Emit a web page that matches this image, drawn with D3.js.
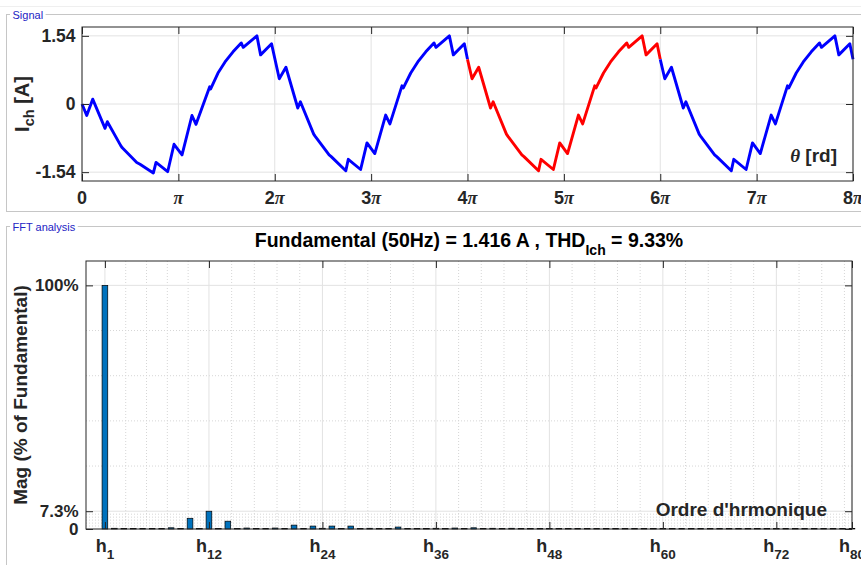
<!DOCTYPE html>
<html>
<head>
<meta charset="utf-8">
<script src="https://cdn.jsdelivr.net/npm/d3@7"></script>
<style>
  html, body { margin: 0; padding: 0; background: #fff; }
  svg { display: block; }
</style>
</head>
<body>
<svg id="fig" width="861" height="565"></svg>
<script>
// ---------------------------------------------------------------
// Load current i_ch(θ): polyline vertices as [θ / π, current in A]
// ---------------------------------------------------------------
const signalBefore = [
  [0.000, 0.00], [0.049, -0.26], [0.111, 0.11], [0.239, -0.55], [0.263, -0.40],
  [0.402, -0.94], [0.418, -0.99], [0.568, -1.32], [0.602, -1.36], [0.740, -1.56],
  [0.768, -1.32], [0.889, -1.53], [0.955, -0.91], [1.038, -1.15], [1.141, -0.26],
  [1.183, -0.46], [1.325, 0.39], [1.335, 0.34], [1.411, 0.70], [1.484, 0.95],
  [1.567, 1.18], [1.652, 1.38], [1.673, 1.28], [1.815, 1.54], [1.853, 1.11],
  [1.967, 1.36], [2.047, 0.57], [2.116, 0.83], [2.239, -0.09], [2.266, 0.05],
  [2.404, -0.68], [2.420, -0.73], [2.564, -1.15], [2.586, -1.19], [2.737, -1.51],
  [2.763, -1.25], [2.891, -1.48], [2.957, -0.88], [3.038, -1.12], [3.151, -0.25],
  [3.195, -0.45], [3.320, 0.41], [3.333, 0.36], [3.411, 0.70], [3.484, 0.95],
  [3.567, 1.18], [3.652, 1.38], [3.673, 1.28], [3.812, 1.54], [3.853, 1.11],
  [3.967, 1.36], [4.000, 1.01]
];

// the analysed window (4π – 6π)
const signalHighlighted = [
  [4.000, 1.01], [4.047, 0.57], [4.116, 0.83], [4.239, -0.09], [4.266, 0.05],
  [4.404, -0.68], [4.420, -0.73], [4.564, -1.15], [4.586, -1.19], [4.737, -1.51],
  [4.763, -1.25], [4.891, -1.48], [4.957, -0.88], [5.038, -1.12], [5.151, -0.25],
  [5.195, -0.45], [5.320, 0.41], [5.333, 0.36], [5.411, 0.70], [5.484, 0.95],
  [5.567, 1.18], [5.652, 1.38], [5.673, 1.28], [5.812, 1.54], [5.853, 1.11],
  [5.967, 1.36], [6.000, 1.01]
];

const signalAfter = [
  [6.000, 1.01], [6.047, 0.57], [6.116, 0.83], [6.239, -0.09], [6.266, 0.05],
  [6.404, -0.68], [6.420, -0.73], [6.564, -1.15], [6.586, -1.19], [6.737, -1.51],
  [6.763, -1.25], [6.891, -1.48], [6.957, -0.88], [7.038, -1.12], [7.151, -0.25],
  [7.195, -0.45], [7.320, 0.41], [7.333, 0.36], [7.411, 0.70], [7.484, 0.95],
  [7.567, 1.18], [7.652, 1.38], [7.673, 1.28], [7.812, 1.54], [7.853, 1.11],
  [7.967, 1.36], [8.000, 1.01]
];

const signalXTicks = [0, 1, 2, 3, 4, 5, 6, 7, 8];          // multiples of π
const signalYTicks = [-1.54, 0, 1.54];
const signalYTickLabels = ["-1.54", "0", "1.54"];

// ---------------------------------------------------------------
// FFT of the analysed window: harmonic order and % of fundamental
// ---------------------------------------------------------------
const harmonicOrders = [
   1,  2,  3,  4,  5,  6,  7,  8,  9, 10, 11, 12, 13, 14, 15, 16, 17, 18, 19, 20,
  21, 22, 23, 24, 25, 26, 27, 28, 29, 30, 31, 32, 33, 34, 35, 36, 37, 38, 39, 40,
  41, 42, 43, 44, 45, 46, 47, 48, 49, 50, 51, 52, 53, 54, 55, 56, 57, 58, 59, 60,
  61, 62, 63, 64, 65, 66, 67, 68, 69, 70, 71, 72, 73, 74, 75, 76, 77, 78, 79, 80
];
const harmonicMag = [
  100, 0.3, 0.2, 0.2, 0.2, 0.2, 0.2, 0.5, 0.2, 4.4, 0.2, 7.3, 0.2, 3.2, 0.2, 0.4, 0.2, 0.2, 0.4, 0.2,
  1.6, 0.2, 1.2, 0.3, 1.2, 0.2, 1.2, 0.2, 0.3, 0.2, 0.2, 0.8, 0.2, 0.2, 0.2, 0.3, 0.2, 0.4, 0.2, 0.5,
  0.2, 0.3, 0.2, 0.3, 0.2, 0.2, 0.2, 0.2, 0.2, 0.2, 0.2, 0.2, 0.2, 0.2, 0.2, 0.2, 0.2, 0.2, 0.2, 0.2,
  0.2, 0.2, 0.2, 0.2, 0.2, 0.2, 0.2, 0.2, 0.2, 0.2, 0.2, 0.2, 0.2, 0.2, 0.2, 0.2, 0.2, 0.2, 0.2, 0.2
];

const fftXTicks = [1, 12, 24, 36, 48, 60, 72, 80];
const fftXMinor = [3.2, 5.4, 7.6, 9.8, 14.4, 16.8, 19.2, 21.6, 26.4, 28.8, 31.2, 33.6,
                   38.4, 40.8, 43.2, 45.6, 50.4, 52.8, 55.2, 57.6, 62.4, 64.8, 67.2, 69.6,
                   74.4, 76.8, 79.2];
const fftYTicks = [0, 7.3, 100];
const fftYTickLabels = ["0", "7.3%", "100%"];
const fftYMinor = [1.22, 2.43, 3.65, 4.87, 6.08, 25.84, 44.38, 62.92, 81.46];

const fundamentalHz = 50;
const fundamentalAmp = 1.416;
const thdPercent = 9.33;

// ---------------------------------------------------------------
const W = 861;
const SANS = '"Liberation Sans", Arial, Helvetica, sans-serif';
const SERIF = '"Liberation Serif", "Times New Roman", serif';
const INK = "#262626";
const GRID = "#e2e2e2";

const svg = d3.select("#fig").style("font-family", SANS);

// faint top rule of the window
svg.append("line").attr("x1", 0).attr("x2", W).attr("y1", 6.5).attr("y2", 6.5)
  .attr("stroke", "#efefef");

// etched panel frame with a caption in its top border
function panelFrame(top, bottom, caption, captionBaseline) {
  const g = svg.append("g");
  g.append("rect").attr("x", 6.5).attr("y", top).attr("width", W + 10).attr("height", bottom - top)
    .attr("fill", "none").attr("stroke", "#c6c6c6");
  g.append("rect").attr("x", 7.5).attr("y", top + 1).attr("width", W + 10).attr("height", bottom - top - 2)
    .attr("fill", "none").attr("stroke", "#ffffff");
  const t = g.append("text").attr("x", 12.5).attr("y", captionBaseline)
    .attr("font-size", 11).attr("fill", "#2323c4").text(caption);
  const w = t.node().getComputedTextLength();
  g.insert("rect", "text").attr("x", 10).attr("y", top - 6).attr("width", w + 5).attr("height", 12)
    .attr("fill", "#fff");
}
panelFrame(14.5, 211.5, "Signal", 18.5);
panelFrame(226.5, 700, "FFT analysis", 230.5);

// ===============================================================
// Signal axes
// ===============================================================
const sx = d3.scaleLinear().domain([0, 8]).range([82, 853]);
const sy = d3.scaleLinear().domain([-1.74, 1.74]).range([181, 27]);

const gs = svg.append("g");
gs.append("rect").attr("x", sx(0)).attr("y", sy(1.74)).attr("width", sx(8) - sx(0))
  .attr("height", sy(-1.74) - sy(1.74)).attr("fill", "#fff");

gs.append("g").selectAll("line").data(signalXTicks).join("line")
  .attr("x1", d => sx(d)).attr("x2", d => sx(d)).attr("y1", sy(1.74)).attr("y2", sy(-1.74))
  .attr("stroke", GRID).attr("stroke-width", 1);
gs.append("g").selectAll("line").data(signalYTicks).join("line")
  .attr("x1", sx(0)).attr("x2", sx(8)).attr("y1", d => sy(d)).attr("y2", d => sy(d))
  .attr("stroke", GRID).attr("stroke-width", 1);

const line = d3.line().x(d => sx(d[0])).y(d => sy(d[1]));
[[signalBefore, "#0000ff"], [signalHighlighted, "#ff0000"], [signalAfter, "#0000ff"]].forEach(([pts, c]) => {
  gs.append("path").datum(pts).attr("d", line).attr("fill", "none").attr("stroke", c)
    .attr("stroke-width", 2.9).attr("stroke-linejoin", "round").attr("stroke-linecap", "butt");
});

// inward ticks on all four sides
function ticks(g, axis, transform) {
  const a = g.append("g").attr("transform", transform).attr("color", INK).call(axis);
  a.select(".domain").remove();
  a.selectAll("text").remove();
  a.selectAll("line").attr("stroke-width", 1);
}
ticks(gs, d3.axisBottom(sx).tickValues(signalXTicks).tickSize(-7).tickSizeOuter(0), `translate(0,${sy(-1.74)})`);
ticks(gs, d3.axisTop(sx).tickValues(signalXTicks).tickSize(-7).tickSizeOuter(0), `translate(0,${sy(1.74)})`);
ticks(gs, d3.axisLeft(sy).tickValues(signalYTicks).tickSize(-7).tickSizeOuter(0), `translate(${sx(0)},0)`);
ticks(gs, d3.axisRight(sy).tickValues(signalYTicks).tickSize(-7).tickSizeOuter(0), `translate(${sx(8)},0)`);

gs.append("rect").attr("x", sx(0)).attr("y", sy(1.74)).attr("width", sx(8) - sx(0))
  .attr("height", sy(-1.74) - sy(1.74)).attr("fill", "none").attr("stroke", INK).attr("stroke-width", 1);

// tick labels
gs.append("g").selectAll("text").data(signalYTicks).join("text")
  .attr("x", 75.5).attr("y", d => sy(d) + 6).attr("text-anchor", "end")
  .attr("font-size", 17.5).attr("font-weight", "bold").attr("fill", INK)
  .text((d, i) => signalYTickLabels[i]);

const xl = gs.append("g").selectAll("text").data(signalXTicks).join("text")
  .attr("x", d => sx(d)).attr("y", 204).attr("text-anchor", "middle").attr("fill", INK);
xl.each(function (d) {
  const t = d3.select(this);
  if (d === 0) {
    t.append("tspan").attr("font-size", 18).attr("font-weight", "bold").text("0");
    return;
  }
  if (d !== 1) t.append("tspan").attr("font-size", 18).attr("font-weight", "bold").text(d);
  t.append("tspan").attr("font-family", SERIF).attr("font-style", "italic").attr("font-weight", "bold")
    .attr("font-size", 18).text("π");
});

// θ [rd]
const th = gs.append("text").attr("x", 837).attr("y", 162).attr("text-anchor", "end").attr("fill", INK);
th.append("tspan").attr("font-family", SERIF).attr("font-style", "italic").attr("font-weight", "bold")
  .attr("font-size", 19).text("θ");
th.append("tspan").attr("font-size", 19).attr("font-weight", "bold").text(" [rd]");

// I_ch [A]
const yl = gs.append("text").attr("transform", `translate(28.5,${(sy(1.74) + sy(-1.74)) / 2}) rotate(-90)`)
  .attr("text-anchor", "middle").attr("fill", INK).attr("font-weight", "bold");
yl.append("tspan").attr("font-size", 20).text("I");
yl.append("tspan").attr("font-size", 14.5).attr("dy", 5).text("ch");
yl.append("tspan").attr("font-size", 20).attr("dy", -5).text(" [A]");

// ===============================================================
// FFT axes
// ===============================================================
const fx = d3.scaleLinear().domain([-1, 80]).range([86, 852]);
const fy = d3.scaleLinear().domain([0, 110]).range([529, 261]);
const gf = svg.append("g");

gf.append("rect").attr("x", fx(-1)).attr("y", fy(110)).attr("width", fx(80) - fx(-1))
  .attr("height", fy(0) - fy(110)).attr("fill", "#fff");

// minor (dotted) grid
gf.append("g").selectAll("line").data(fftXMinor).join("line")
  .attr("x1", d => fx(d)).attr("x2", d => fx(d)).attr("y1", fy(110)).attr("y2", fy(0))
  .attr("stroke", "#d6d6d6").attr("stroke-dasharray", "1,2");
gf.append("g").selectAll("line").data(fftYMinor).join("line")
  .attr("x1", fx(-1)).attr("x2", fx(80)).attr("y1", d => fy(d)).attr("y2", d => fy(d))
  .attr("stroke", "#d6d6d6").attr("stroke-dasharray", "1,2");
// major grid
gf.append("g").selectAll("line").data(fftXTicks).join("line")
  .attr("x1", d => fx(d)).attr("x2", d => fx(d)).attr("y1", fy(110)).attr("y2", fy(0))
  .attr("stroke", GRID);
gf.append("g").selectAll("line").data(fftYTicks).join("line")
  .attr("x1", fx(-1)).attr("x2", fx(80)).attr("y1", d => fy(d)).attr("y2", d => fy(d))
  .attr("stroke", GRID);

// bars
const barW = 0.6;
gf.append("g").selectAll("rect").data(harmonicOrders).join("rect")
  .attr("x", d => fx(d - barW / 2)).attr("width", fx(barW) - fx(0))
  .attr("y", (d, i) => fy(harmonicMag[i])).attr("height", (d, i) => fy(0) - fy(harmonicMag[i]))
  .attr("fill", "#0072bd").attr("stroke", "#000").attr("stroke-width", 0.7);

ticks(gf, d3.axisBottom(fx).tickValues(fftXTicks).tickSize(-7).tickSizeOuter(0), `translate(0,${fy(0)})`);
ticks(gf, d3.axisTop(fx).tickValues(fftXTicks).tickSize(-7).tickSizeOuter(0), `translate(0,${fy(110)})`);
ticks(gf, d3.axisLeft(fy).tickValues(fftYTicks).tickSize(-7).tickSizeOuter(0), `translate(${fx(-1)},0)`);
ticks(gf, d3.axisRight(fy).tickValues(fftYTicks).tickSize(-7).tickSizeOuter(0), `translate(${fx(80)},0)`);

gf.append("rect").attr("x", fx(-1)).attr("y", fy(110)).attr("width", fx(80) - fx(-1))
  .attr("height", fy(0) - fy(110)).attr("fill", "none").attr("stroke", INK).attr("stroke-width", 1);

// tick labels
gf.append("g").selectAll("text").data(fftYTicks).join("text")
  .attr("x", 78.5).attr("y", d => fy(d) + 6).attr("text-anchor", "end")
  .attr("font-size", 17).attr("font-weight", "bold").attr("fill", INK)
  .text((d, i) => fftYTickLabels[i]);

const hx = gf.append("g").selectAll("text").data(fftXTicks).join("text")
  .attr("x", d => fx(d)).attr("y", 552).attr("text-anchor", "middle")
  .attr("font-weight", "bold").attr("fill", INK);
hx.append("tspan").attr("font-size", 18).text("h");
hx.append("tspan").attr("font-size", 13.5).attr("dy", 7).text(d => d);

// x label inside the axes
gf.append("text").attr("x", 827).attr("y", 516).attr("text-anchor", "end")
  .attr("font-size", 19).attr("font-weight", "bold").attr("fill", INK).text("Ordre d'hrmonique");

// y label
gf.append("text").attr("transform", `translate(27,${(fy(0) + fy(110)) / 2}) rotate(-90)`)
  .attr("text-anchor", "middle").attr("font-size", 19).attr("font-weight", "bold").attr("fill", INK)
  .text("Mag (% of Fundamental)");

// title
const tt = gf.append("text").attr("x", (fx(-1) + fx(80)) / 2).attr("y", 247).attr("text-anchor", "middle")
  .attr("font-weight", "bold").attr("fill", "#000");
tt.append("tspan").attr("font-size", 19.5)
  .text(`Fundamental (${fundamentalHz}Hz) = ${fundamentalAmp.toFixed(3)} A , THD`);
tt.append("tspan").attr("font-size", 14).attr("dy", 8).text("Ich");
tt.append("tspan").attr("font-size", 19.5).attr("dy", -8).text(` = ${thdPercent.toFixed(2)}%`);
</script>
</body>
</html>
